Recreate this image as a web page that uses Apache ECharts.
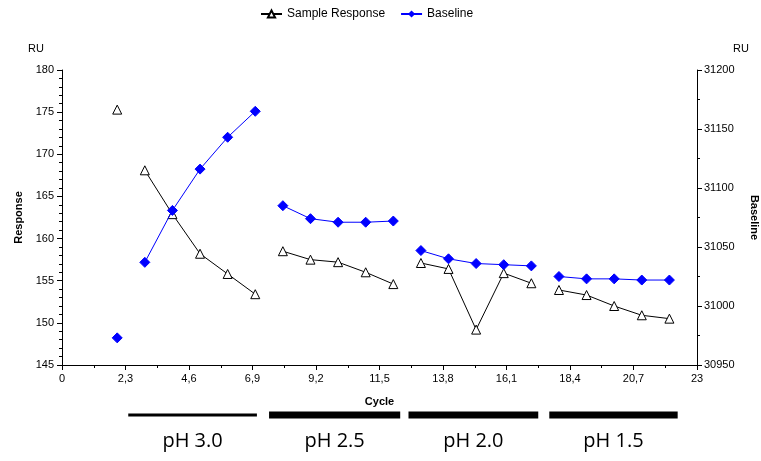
<!DOCTYPE html>
<html>
<head>
<meta charset="utf-8">
<script src="https://cdn.jsdelivr.net/npm/echarts@6/dist/echarts.min.js"></script>
<style>
  html, body { margin: 0; padding: 0; background: #fff; }
  #chart { width: 761px; height: 461px; }
</style>
</head>
<body>
<div id="chart"></div>
<script>
// cycles and the two measured series
var cycles = [2, 3, 4, 5, 6, 7, 8, 9, 10, 11, 12, 13, 14, 15, 16, 17, 18, 19, 20, 21, 22];
var sampleResponse = [175.3, 168.1, 162.9, 158.2, 155.8, 153.4,
  158.5, 157.5, 157.2, 156.0, 154.6,
  157.1, 156.4, 149.2, 155.9, 154.7,
  153.9, 153.3, 152.0, 150.9, 150.5];
var baseline = [30973, 31037, 31081, 31116, 31143, 31165,
  31085, 31074, 31071, 31071, 31072,
  31047, 31040, 31036, 31035, 31034,
  31025, 31023, 31023, 31022, 31022];
// a new line segment starts at these cycles
var segmentStarts = [2, 3, 8, 13, 18];
// pH bars under the axis (cycle ranges) and labels
var phRanges = [[2.4, 7.06], [7.5, 12.25], [12.55, 17.25], [17.65, 22.3]];
var phWidths = [3, 7, 7, 7];
var phLabels = ['pH 3.0', 'pH 2.5', 'pH 2.0', 'pH 1.5'];

function withGaps(vals) {
  var out = [];
  for (var i = 0; i < cycles.length; i++) {
    if (i > 0 && segmentStarts.indexOf(cycles[i]) >= 0) {
      out.push([cycles[i] - 0.5, null]);
    }
    out.push([cycles[i], vals[i]]);
  }
  return out;
}

var font = '"Liberation Sans", Arial, sans-serif';
var chart = echarts.init(document.getElementById('chart'));

var option = {
  backgroundColor: '#fff',
  animation: false,
  textStyle: { fontFamily: font },
  legend: {
    top: 3,
    left: 255,
    itemWidth: 21,
    itemHeight: 9,
    itemGap: 15,
    textStyle: { fontSize: 12, color: '#000', fontFamily: font },
    data: ['Sample Response', 'Baseline']
  },
  grid: { left: 62, right: 64, top: 70, bottom: 96, outerBoundsMode: 'none', containLabel: false },
  xAxis: {
    type: 'value',
    min: 0,
    max: 23,
    interval: 2.3,
    name: 'Cycle',
    nameLocation: 'middle',
    nameGap: 31,
    nameTextStyle: { fontSize: 11, fontWeight: 'bold', color: '#000' },
    axisLine: { lineStyle: { color: '#000', width: 1 } },
    axisTick: { length: 5, lineStyle: { color: '#000' } },
    minorTick: { show: true, splitNumber: 2, length: 3, lineStyle: { color: '#000' } },
    splitLine: { show: false },
    axisLabel: {
      fontSize: 11, color: '#000', margin: 8,
      formatter: function (v) { return (Math.round(v * 10) / 10).toString().replace('.', ','); }
    }
  },
  yAxis: [{
    type: 'value',
    min: 145,
    max: 180,
    interval: 5,
    position: 'left',
    name: 'Response',
    nameLocation: 'middle',
    nameGap: 38,
    nameTextStyle: { fontSize: 11, fontWeight: 'bold', color: '#000' },
    axisLine: { show: true, lineStyle: { color: '#000', width: 1 } },
    axisTick: { show: true, length: 5, lineStyle: { color: '#000' } },
    minorTick: { show: true, splitNumber: 5, length: 3, lineStyle: { color: '#000' } },
    splitLine: { show: false },
    axisLabel: { fontSize: 11, color: '#000', margin: 8 }
  }, {
    type: 'value',
    min: 30950,
    max: 31200,
    interval: 50,
    position: 'right',
    name: 'Baseline',
    nameLocation: 'middle',
    nameRotate: -90,
    nameGap: 52,
    nameTextStyle: { fontSize: 11, fontWeight: 'bold', color: '#000' },
    axisLine: { show: true, lineStyle: { color: '#000', width: 1 } },
    axisTick: { show: true, length: 5, lineStyle: { color: '#000' } },
    minorTick: { show: true, splitNumber: 2, length: 3, lineStyle: { color: '#000' } },
    splitLine: { show: false },
    axisLabel: { fontSize: 11, color: '#000', margin: 7, formatter: function (v) { return String(v); } }
  }],
  series: [{
    name: 'Sample Response',
    type: 'line',
    yAxisIndex: 0,
    data: withGaps(sampleResponse),
    connectNulls: false,
    symbol: 'triangle',
    symbolSize: 9,
    showAllSymbol: true,
    itemStyle: { color: '#fff', borderColor: '#000', borderWidth: 1 },
    lineStyle: { color: '#000', width: 1 },
    z: 3
  }, {
    name: 'Baseline',
    type: 'line',
    yAxisIndex: 1,
    data: withGaps(baseline),
    connectNulls: false,
    symbol: 'diamond',
    symbolSize: 10,
    showAllSymbol: true,
    itemStyle: { color: '#0000ff', borderColor: '#0000ff' },
    lineStyle: { color: '#0000ff', width: 1 },
    z: 4
  }]
};

chart.setOption(option);

// RU labels, pH bars and texts under the axis
var graphics = [
  { type: 'text', left: 28, top: 43, style: { text: 'RU', font: '11px ' + font, fill: '#000' } },
  { type: 'text', left: 733, top: 43, style: { text: 'RU', font: '11px ' + font, fill: '#000' } }
];
phRanges.forEach(function (r, i) {
  var x0 = chart.convertToPixel({ xAxisIndex: 0 }, r[0]);
  var x1 = chart.convertToPixel({ xAxisIndex: 0 }, r[1]);
  graphics.push({
    type: 'rect',
    shape: { x: x0, y: 415 - phWidths[i] / 2, width: x1 - x0, height: phWidths[i] },
    style: { fill: '#000' }
  });
  graphics.push({
    type: 'text',
    x: (x0 + x1) / 2,
    y: 441,
    style: {
      text: phLabels[i],
      font: '20px "Open Sans", "Noto Sans", sans-serif',
      fill: '#000',
      align: 'center',
      verticalAlign: 'middle'
    }
  });
});
chart.setOption({ graphic: graphics });
</script>
</body>
</html>
